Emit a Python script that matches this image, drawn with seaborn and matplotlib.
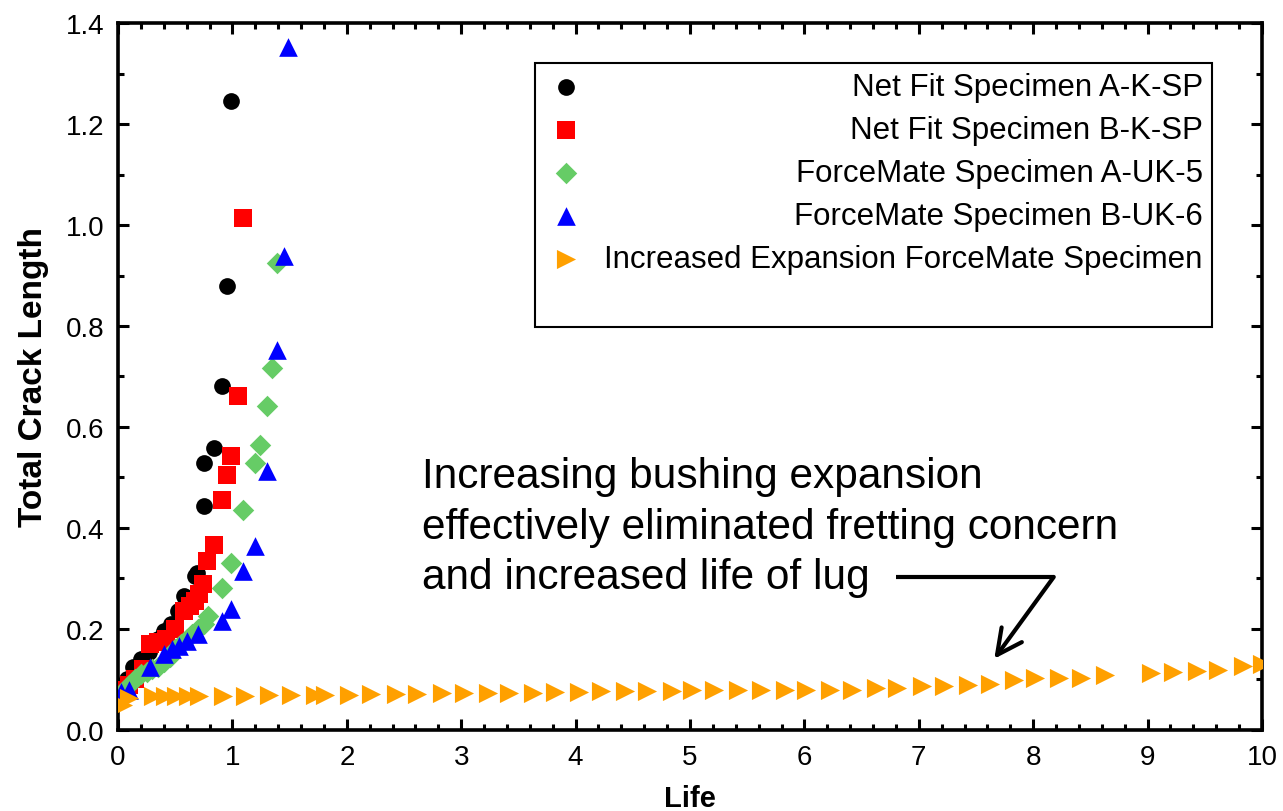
import numpy as np
import pandas as pd
import matplotlib
matplotlib.use("Agg")
import matplotlib.pyplot as plt
import seaborn as sns
from matplotlib.lines import Line2D
from matplotlib.ticker import MultipleLocator, FormatStrFormatter

# ---------------- data ----------------
a_k_sp_x = [0.08, 0.13, 0.20, 0.27, 0.35, 0.40, 0.46, 0.52, 0.58, 0.67, 0.69, 0.75, 0.75, 0.84, 0.91, 0.95, 0.99]
a_k_sp_y = [0.10, 0.125, 0.14, 0.155, 0.18, 0.195, 0.21, 0.235, 0.265, 0.305, 0.31, 0.444, 0.529, 0.558, 0.681, 0.880, 1.246]

b_k_sp_x = [0.04, 0.10, 0.15, 0.22, 0.28, 0.35, 0.42, 0.50, 0.58, 0.63, 0.67, 0.71, 0.74, 0.78, 0.84, 0.91, 0.95, 0.99, 1.05, 1.09]
b_k_sp_y = [0.08, 0.09, 0.10, 0.12, 0.17, 0.175, 0.18, 0.20, 0.235, 0.245, 0.255, 0.27, 0.29, 0.335, 0.366, 0.455, 0.504, 0.543, 0.662, 1.014]

a_uk5_x = [0.05, 0.10, 0.15, 0.20, 0.25, 0.30, 0.35, 0.40, 0.45, 0.50, 0.55, 0.60, 0.65, 0.70, 0.75, 0.79,
           0.91, 0.99, 1.09, 1.20, 1.24, 1.30, 1.35, 1.39]
a_uk5_y = [0.08, 0.09, 0.10, 0.11, 0.115, 0.12, 0.125, 0.135, 0.145, 0.16, 0.17, 0.18, 0.19, 0.20, 0.21, 0.226,
           0.281, 0.330, 0.436, 0.529, 0.565, 0.642, 0.717, 0.924]

b_uk6_x = [0.03, 0.10, 0.28, 0.40, 0.47, 0.53, 0.60, 0.70, 0.91, 0.99, 1.09, 1.20, 1.30, 1.39, 1.45, 1.49]
b_uk6_y = [0.075, 0.08, 0.124, 0.15, 0.16, 0.167, 0.177, 0.19, 0.216, 0.24, 0.315, 0.365, 0.513, 0.753, 0.939, 1.352]

inc_exp_x = [0.04, 0.10, 0.31, 0.41, 0.51, 0.61, 0.71, 0.92, 1.11, 1.32, 1.51, 1.72, 1.81, 2.02, 2.21, 2.43,
             2.61, 2.83, 3.02, 3.23, 3.42, 3.63, 3.82, 4.03, 4.22, 4.43, 4.62, 4.84, 5.02, 5.21, 5.42, 5.62,
             5.83, 6.01, 6.22, 6.42, 6.63, 6.81, 7.03, 7.22, 7.43, 7.62, 7.83, 8.02, 8.23, 8.42, 8.63, 9.03,
             9.22, 9.43, 9.62, 9.83, 10.0]
inc_exp_y = [0.05, 0.063, 0.068, 0.068, 0.068, 0.068, 0.068, 0.068, 0.068, 0.069, 0.069, 0.070, 0.070, 0.070, 0.071, 0.071,
             0.071, 0.073, 0.073, 0.073, 0.074, 0.074, 0.076, 0.076, 0.077, 0.077, 0.078, 0.078, 0.079, 0.079, 0.080, 0.080,
             0.080, 0.080, 0.080, 0.079, 0.083, 0.083, 0.088, 0.088, 0.089, 0.092, 0.098, 0.102, 0.102, 0.102, 0.108, 0.112,
             0.114, 0.117, 0.119, 0.127, 0.131]

labels = ["Net Fit Specimen A-K-SP", "Net Fit Specimen B-K-SP", "ForceMate Specimen A-UK-5",
          "ForceMate Specimen B-UK-6", "Increased Expansion ForceMate Specimen"]
colors = ["#000000", "#FF0000", "#66CC66", "#0000FF", "#FFA000"]
markers = ["o", "s", "D", "^", ">"]
sizes = [145, 150, 120, 180, 190]

annotation_text = "Increasing bushing expansion\neffectively eliminated fretting concern\nand increased life of lug"

# ---------------- style ----------------
sns.set_style("ticks")
plt.rcParams["font.family"] = ["Liberation Sans", "DejaVu Sans"]
plt.rcParams["text.color"] = "black"
plt.rcParams["axes.labelcolor"] = "black"

fig = plt.figure(figsize=(12.83, 8.12), dpi=100)
ax = fig.add_axes([0.092, 0.0998, 0.8916, 0.8706])

series = [(a_k_sp_x, a_k_sp_y), (b_k_sp_x, b_k_sp_y), (a_uk5_x, a_uk5_y), (b_uk6_x, b_uk6_y), (inc_exp_x, inc_exp_y)]
for (xs, ys), lab, c, m, s in zip(series, labels, colors, markers, sizes):
    df = pd.DataFrame({"Life": xs, "Total Crack Length": ys})
    sns.scatterplot(data=df, x="Life", y="Total Crack Length", ax=ax, marker=m, s=s,
                    color=c, linewidth=0, label=lab, zorder=3)

ax.set_xlim(0, 10)
ax.set_ylim(0, 1.4)
ax.xaxis.set_major_locator(MultipleLocator(1))
ax.xaxis.set_minor_locator(MultipleLocator(0.2))
ax.yaxis.set_major_locator(MultipleLocator(0.2))
ax.yaxis.set_minor_locator(MultipleLocator(0.1))
ax.yaxis.set_major_formatter(FormatStrFormatter("%.1f"))
ax.tick_params(which="both", direction="in", top=True, right=True, width=2.2, labelsize=20, colors="black")
ax.tick_params(which="major", length=8, pad=10)
ax.tick_params(which="minor", length=4.5)
for sp in ax.spines.values():
    sp.set_linewidth(2.6)
    sp.set_color("black")

ax.set_xlabel("Life", fontsize=21, fontweight="bold", labelpad=10, color="black")
ax.set_ylabel("Total Crack Length", fontsize=24, fontweight="bold", labelpad=12, color="black")

# annotation
ax.text(2.655, 0.543, annotation_text, fontsize=30.5, ha="left", va="top", linespacing=1.35, color="black")
ax.plot([6.80, 8.18], [0.303, 0.303], color="black", lw=3, solid_capstyle="butt")
ax.annotate("", xy=(7.66, 0.141), xytext=(8.18, 0.303),
            arrowprops=dict(arrowstyle="->,head_length=0.9,head_width=0.45", lw=3, color="black",
                            mutation_scale=20, shrinkA=0, shrinkB=0))

# legend
handles, labs = ax.get_legend_handles_labels()
handles.append(Line2D([], [], linestyle="none", marker=None))
labs.append(" ")
leg = ax.legend(handles, labs, loc="upper left", bbox_to_anchor=(0.3645, 0.944), fontsize=22.5,
                frameon=True, fancybox=False, framealpha=1, edgecolor="black",
                handlelength=1.4, handletextpad=0.52, borderpad=0.3, labelspacing=0.42,
                borderaxespad=0, labelcolor="black")
leg.get_frame().set_linewidth(1.5)
fig.canvas.draw()
renderer = fig.canvas.get_renderer()
widths = [t.get_window_extent(renderer).width for t in leg.get_texts()]
wmax = max(widths)
for t, w in zip(leg.get_texts(), widths):
    t.set_ha("right")
    t.set_position((wmax - w, 0))

fig.savefig("out.png", dpi=100)
